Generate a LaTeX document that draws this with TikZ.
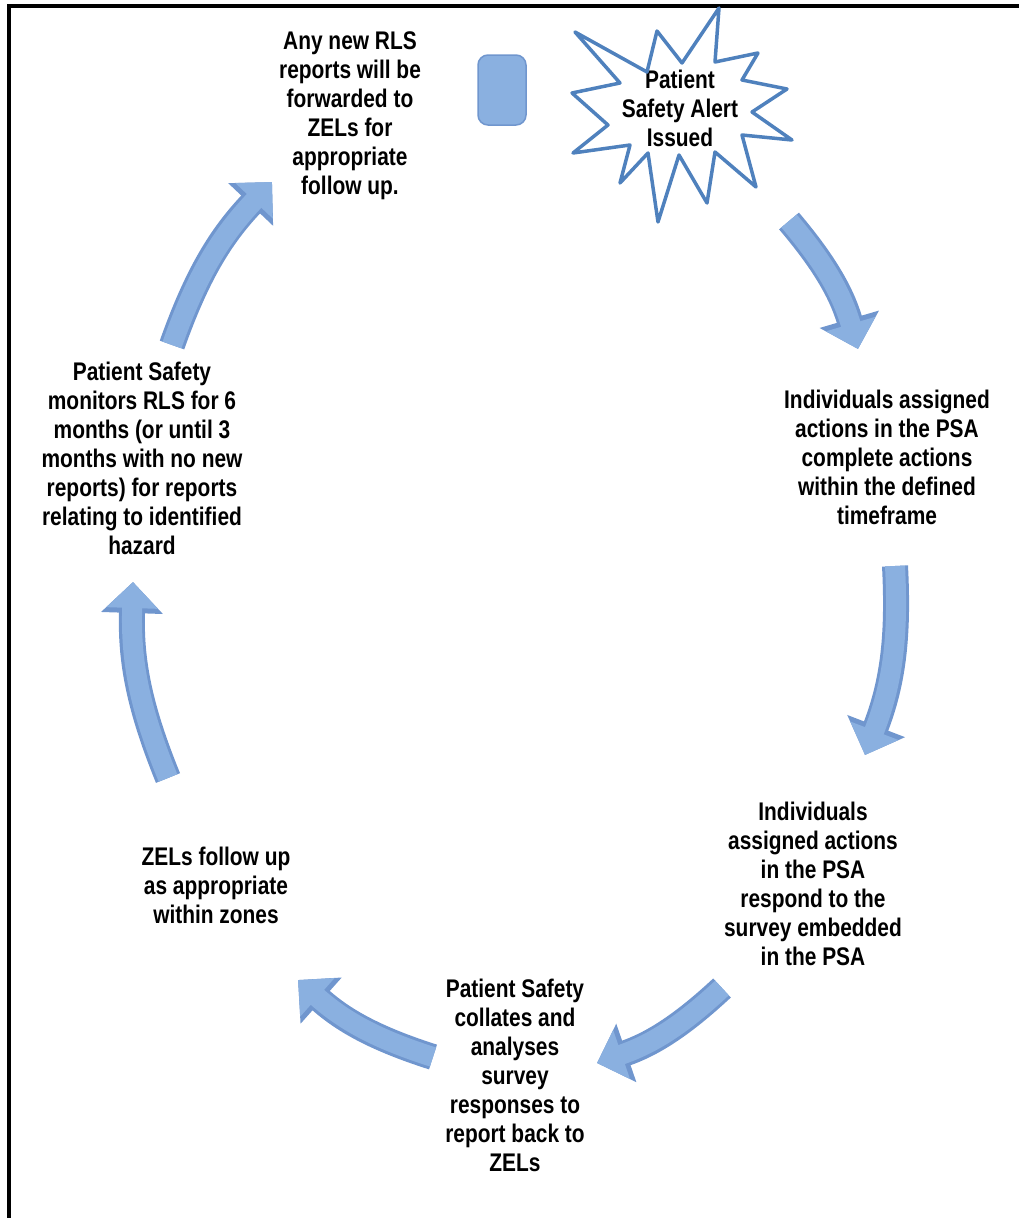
\documentclass[tikz,border=0pt]{standalone}
\usepackage{fontspec}
\usetikzlibrary{arrows.meta}
\newfontfamily\narrowsans{Liberation Sans}[FakeStretch=0.82]
\definecolor{arrowblue}{RGB}{138,176,224}
\definecolor{arrowedge}{RGB}{112,150,206}
\definecolor{alertblue}{RGB}{79,129,189}
\tikzset{
  steptext/.style={align=center,inner sep=0pt,
    font=\narrowsans\bfseries\fontsize{25.5}{29}\selectfont},
  cyclearrow/.style={line width=20pt,draw=arrowblue,
    -{Triangle[width=50pt,length=26pt]},
    preaction={draw=arrowedge,line width=26pt,-{Triangle[width=60pt,length=31pt]}}},
  alertline/.style={draw=alertblue,line width=3.5pt,line join=round},
  stub/.style={draw=arrowedge,fill=arrowblue,line width=1.5pt,
    minimum width=48pt,minimum height=70pt,rounded corners=10pt}
}
\begin{document}
\begin{tikzpicture}[x=1pt,y=-1pt]
  \useasboundingbox (0,0) rectangle (1019,1218);
  \path[draw,line width=4pt] (9,1218) -- (9,5.5) -- (1019,5.5);

  \node[steptext] (forward) at (350,116) {Any new RLS\\reports will be\\forwarded to\\ZELs for\\appropriate\\follow up.};
  \node[stub] (stub) at (502,90) {};
  \node[steptext] (alert) at (680,108) {Patient\\Safety Alert\\Issued};
  \begin{scope}[shift={(alert.center)}]
    \path[alertline] (39,-100) -- (35,-46) -- (78,-55) -- (62,-28) -- (107,-19)
      -- (72,4) -- (112,32) -- (62,27) -- (76,79) -- (35,44) -- (27,95)
      -- (-1,47) -- (-22,114) -- (-32,45) -- (-60,75) -- (-50,37) -- (-107,45)
      -- (-72,17) -- (-108,-15) -- (-60,-25) -- (-105,-76) -- (-33,-36)
      -- (-23,-77) -- (2,-45) -- cycle;
  \end{scope}

  \node[steptext] (complete) at (887,457) {Individuals assigned\\actions in the PSA\\complete actions\\within the defined\\timeframe};
  \node[steptext] (respond) at (813,884) {Individuals\\assigned actions\\in the PSA\\respond to the\\survey embedded\\in the PSA};
  \node[steptext] (collate) at (515,1075) {Patient Safety\\collates and\\analyses\\survey\\responses to\\report back to\\ZELs};
  \node[steptext] (follow) at (216,885) {ZELs follow up\\as appropriate\\within zones};
  \node[steptext] (monitor) at (142,458) {Patient Safety\\monitors RLS for 6\\months (or until 3\\months with no new\\reports) for reports\\relating to identified\\hazard};

  \coordinate (alert-out) at (789,221);
  \coordinate (complete-in) at (858,349);
  \coordinate (complete-out) at (895,566);
  \coordinate (respond-in) at (865,755);
  \coordinate (respond-out) at (722,988);
  \coordinate (collate-in) at (597,1063);
  \coordinate (collate-out) at (433,1057);
  \coordinate (follow-in) at (298,980);
  \coordinate (follow-out) at (168,778);
  \coordinate (monitor-in) at (133,582);
  \coordinate (monitor-out) at (172,345);
  \coordinate (forward-in) at (272,182);

  \path[cyclearrow] (alert-out) to[bend left=12] (complete-in);
  \path[cyclearrow] (complete-out) to[bend left=12] (respond-in);
  \path[cyclearrow] (respond-out) to[bend left=12] (collate-in);
  \path[cyclearrow] (collate-out) to[bend left=12] (follow-in);
  \path[cyclearrow] (follow-out) to[bend left=12] (monitor-in);
  \path[cyclearrow] (monitor-out) to[bend left=12] (forward-in);
\end{tikzpicture}
\end{document}
